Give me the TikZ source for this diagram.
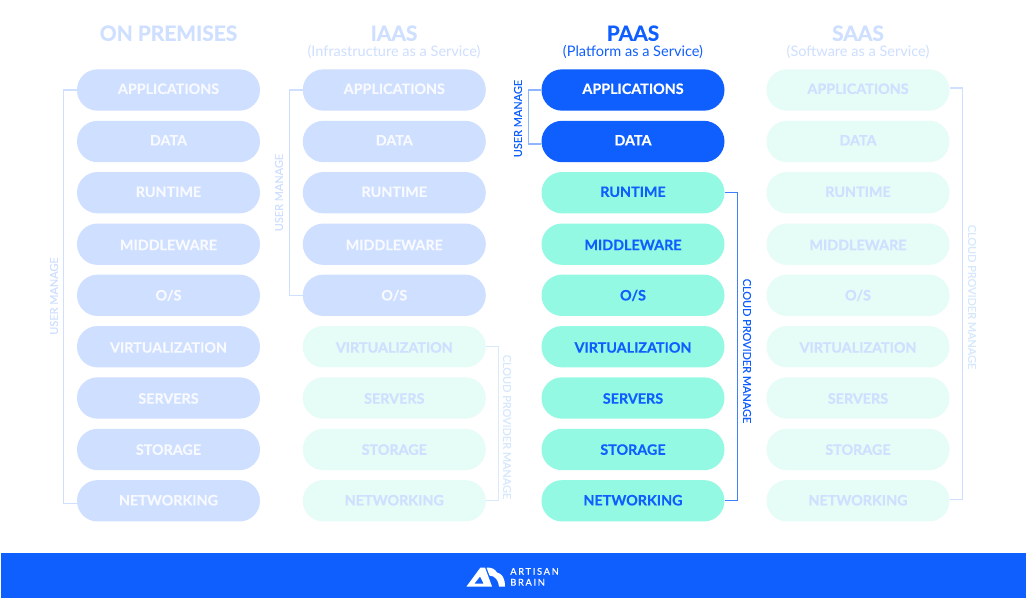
\documentclass[tikz,border=0pt]{standalone}
\usepackage{fontspec}
\setmainfont{Lato}[BoldFeatures={FakeBold=0.4}]
\newfontfamily\sidefont{Lato}[FakeBold=0.2]
\newfontfamily\logofont{Lato}[FakeBold=0.45,LetterSpace=18]
\definecolor{brandblue}{HTML}{0F5FFF}
\definecolor{paleblue}{HTML}{CEDFFF}
\definecolor{palemint}{HTML}{E6FCF7}
\definecolor{mint}{HTML}{94F9E2}
\definecolor{whitish}{HTML}{F8FAFF}
\definecolor{midline}{HTML}{8FB5FF}
\newcommand{\lift}[2]{\raisebox{#1pt}{#2}}
\tikzset{
 pill/.style={rounded corners=15.4pt,minimum width=137.25pt,minimum height=31pt,inner sep=0pt,text height=7.7pt,text depth=0pt,font=\fontsize{10.75}{13}\selectfont\bfseries},
 pillpale/.style={pill,fill=paleblue,text=whitish},
 pillfade/.style={pill,fill=palemint,text=paleblue},
 pillmint/.style={pill,fill=mint,text=brandblue},
 pillblue/.style={pill,fill=brandblue,text=white},
 title/.style={font=\fontsize{15.7}{18}\selectfont\bfseries,inner sep=0pt},
 subtitle/.style={font=\fontsize{10.9}{12}\selectfont,inner sep=0pt},
 side/.style={font=\fontsize{8.2}{9}\selectfont\sidefont,inner sep=0pt},
 link/.style={line width=1pt,draw=#1},
 logotext/.style={anchor=west,text=white,inner sep=0pt,font=\fontsize{7}{8}\selectfont\logofont},
}
\begin{document}
\begin{tikzpicture}[x=.75pt,y=-.75pt]
\useasboundingbox (0,0) rectangle (1026,599);
\fill[white] (0,0) rectangle (1026,599);
% On premises
\node[pillpale] (a1) at (168.5,90) {\lift{.9}{APPLICATIONS}};
\node[pillpale] (b1) at (168.5,141.5) {\lift{.9}{DATA}};
\node[pillpale] (c1) at (168.5,192.7) {\lift{.7}{RUNTIME}};
\node[pillpale] (d1) at (168.5,244.2) {\lift{-.6}{MIDDLEWARE}};
\node[pillpale] (e1) at (168.5,295.3) {\lift{0}{O/S}};
\node[pillpale] (f1) at (168.5,346.7) {\lift{-.6}{VIRTUALIZATION}};
\node[pillpale] (g1) at (168.5,398) {\lift{-.4}{SERVERS}};
\node[pillpale] (h1) at (168.5,449.5) {\lift{-.1}{STORAGE}};
\node[pillpale] (i1) at (168.5,500.8) {\lift{.4}{NETWORKING}};
% IaaS
\node[pillpale] (a2) at (394.3,90) {\lift{.9}{APPLICATIONS}};
\node[pillpale] (b2) at (394.3,141.5) {\lift{.9}{DATA}};
\node[pillpale] (c2) at (394.3,192.7) {\lift{.7}{RUNTIME}};
\node[pillpale] (d2) at (394.3,244.2) {\lift{-.6}{MIDDLEWARE}};
\node[pillpale] (e2) at (394.3,295.3) {\lift{0}{O/S}};
\node[pillfade] (f2) at (394.3,346.7) {\lift{-.6}{VIRTUALIZATION}};
\node[pillfade] (g2) at (394.3,398) {\lift{-.4}{SERVERS}};
\node[pillfade] (h2) at (394.3,449.5) {\lift{-.1}{STORAGE}};
\node[pillfade] (i2) at (394.3,500.8) {\lift{.4}{NETWORKING}};
% PaaS
\node[pillblue] (a3) at (633,90) {\lift{.9}{APPLICATIONS}};
\node[pillblue] (b3) at (633,141.5) {\lift{.9}{DATA}};
\node[pillmint] (c3) at (633,192.7) {\lift{.7}{RUNTIME}};
\node[pillmint] (d3) at (633,244.2) {\lift{-.6}{MIDDLEWARE}};
\node[pillmint] (e3) at (633,295.3) {\lift{0}{O/S}};
\node[pillmint] (f3) at (633,346.7) {\lift{-.6}{VIRTUALIZATION}};
\node[pillmint] (g3) at (633,398) {\lift{-.4}{SERVERS}};
\node[pillmint] (h3) at (633,449.5) {\lift{-.1}{STORAGE}};
\node[pillmint] (i3) at (633,500.8) {\lift{.4}{NETWORKING}};
% SaaS
\node[pillfade] (a4) at (858,90) {\lift{.9}{APPLICATIONS}};
\node[pillfade] (b4) at (858,141.5) {\lift{.9}{DATA}};
\node[pillfade] (c4) at (858,192.7) {\lift{.7}{RUNTIME}};
\node[pillfade] (d4) at (858,244.2) {\lift{-.6}{MIDDLEWARE}};
\node[pillfade] (e4) at (858,295.3) {\lift{0}{O/S}};
\node[pillfade] (f4) at (858,346.7) {\lift{-.6}{VIRTUALIZATION}};
\node[pillfade] (g4) at (858,398) {\lift{-.4}{SERVERS}};
\node[pillfade] (h4) at (858,449.5) {\lift{-.1}{STORAGE}};
\node[pillfade] (i4) at (858,500.8) {\lift{.4}{NETWORKING}};
% titles
\node[title,text=paleblue] (t1) at (168.5,33.2) {ON PREMISES};
\node[title,text=paleblue] (t2) at (394,33.2) {IAAS};
\node[title,text=brandblue] (t3) at (633,33.2) {PAAS};
\node[title,text=paleblue] (t4) at (858,33.2) {SAAS};
\node[subtitle,text=paleblue] (s2) at (394,52) {(Infrastructure as a Service)};
\node[subtitle,text=brandblue] (s3) at (633,52) {(Platform as a Service)};
\node[subtitle,text=paleblue] (s4) at (858,52) {(Software as a Service)};
% connectors
\draw[link=paleblue] (a1.west) -- ++(-13,0) |- ([yshift=-2pt]i1.west);
\draw[link=paleblue] (a2.west) -- ++(-13,0) |- (e2.west);
\draw[link=midline] (a3.west) -- ++(-13,0) |- ([yshift=-2pt]b3.west);
\draw[link=brandblue!80!white] (c3.east) -- ++(13,0) |- (i3.east);
\draw[link=palemint!40!paleblue] (f2.east) -- ++(12.5,0) |- (i2.east);
\draw[link=paleblue] ([yshift=1.5pt]a4.east) -- ++(13,0) |- ([yshift=.75pt]i4.east);
% side labels
\node[side,text=paleblue,rotate=90] (u1) at (54,296) {USER MANAGE};
\node[side,text=paleblue,rotate=90] (u2) at (279,192.5) {USER MANAGE};
\node[side,text=brandblue,rotate=90] (u3) at (518,118.5) {USER MANAGE};
\node[side,text=brandblue,rotate=-90] (v3) at (747,351) {CLOUD PROVIDER MANAGE};
\node[side,text=palemint!30!paleblue,rotate=-90] (v2) at (507,427) {CLOUD PROVIDER MANAGE};
\node[side,text=palemint!30!paleblue,rotate=-90] (v4) at (972,297) {CLOUD PROVIDER MANAGE};
% footer
\fill[brandblue] (1,553) rectangle (1026,598);
\fill[white,even odd rule]
  (466.5,586.5) -- (480.5,567.5) -- (485,567.5) -- (492,586.5) -- cycle
  (474.5,583.5) -- (480,576.5) -- (483.5,583.5) -- cycle;
\fill[white] (486.5,567.5) .. controls (492,567.5) and (495,569) .. (497,572.5)
  .. controls (502,573.5) and (505,578) .. (505,586.5) -- (499,586.5)
  .. controls (498.5,580) and (495,576) .. (489.5,575.5) -- cycle;
\node[logotext] (l1) at (510,571.4) {ARTISAN};
\node[logotext] (l2) at (510,582.3) {BRAIN};
\end{tikzpicture}
\end{document}
